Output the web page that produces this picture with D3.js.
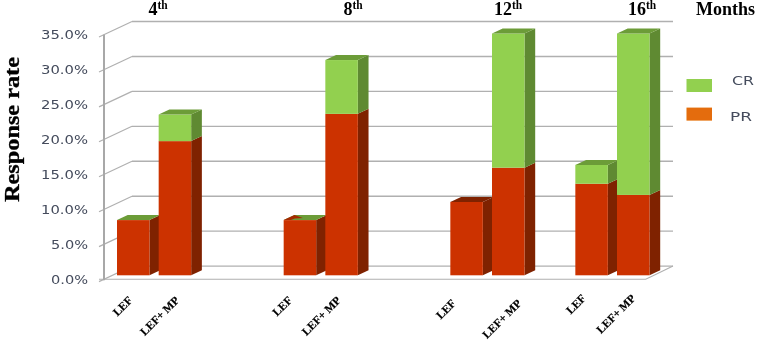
<!DOCTYPE html>
<html>
<head>
<meta charset="utf-8">
<script src="https://cdnjs.cloudflare.com/ajax/libs/d3/7.8.5/d3.min.js"></script>
<style>
  body { margin: 0; background: #fff; }
  svg { display: block; }
  .serif { font-family: "Liberation Serif", serif; font-weight: bold; fill: #000; }
  .sans { font-family: "DejaVu Sans", sans-serif; fill: #444b5c; }
</style>
</head>
<body>
<script>
// values, in percent
var months = ["4", "8", "12", "16"];
var arms = ["LEF", "LEF+ MP"];
var prValues = [7.9, 19.2, 7.9, 23.1, 10.5, 15.4, 13.1, 11.5];
var crValues = [0, 3.8, 0, 7.7, null, 19.2, 2.7, 23.1];
var yTicks = [0, 5, 10, 15, 20, 25, 30, 35];
var legendNames = ["CR", "PR"];

var width = 758, height = 340;

// layout of the fake 3D box
var wallDx = 28, wallDy = -13.2;   // front wall to back wall
var depthDx = 10.7, depthDy = -5;  // bar depth
var barLift = -4;                  // bars stand a bit behind the front edge
var floorRight = 645.7;

var colors = {
  pr: { front: "#cc3300", side: "#7f2200", top: "#7f2200" },
  cr: { front: "#92d050", side: "#5f8a32", top: "#6c9c38" },
  grid: "#b0b0b0", axis: "#a8a8a8", legendPr: "#e46c0a"
};

// empty slots between the month groups
var gapsAfter = [2, 2, 1];
var slots = [];
months.forEach(function(m, i) {
  arms.forEach(function(a) { slots.push(m + "|" + a); });
  for (var g = 0; g < (gapsAfter[i] || 0); g++) slots.push("gap" + i + g);
});

var x = d3.scaleBand().domain(slots).range([117, 649.5]).paddingInner(0.22).paddingOuter(0);
var y = d3.scaleLinear().domain([0, 35]).range([279.3, 34.7]);

var barKeys = [];
months.forEach(function(m) { arms.forEach(function(a) { barKeys.push(m + "|" + a); }); });

var bars = barKeys.map(function(k, i) {
  return { key: k, pr: prValues[i], cr: crValues[i] };
});

var svg = d3.select("body").append("svg")
    .attr("width", width)
    .attr("height", height);

svg.append("rect").attr("width", width).attr("height", height).attr("fill", "#fff");

svg.append("defs").append("filter")
    .attr("id", "soft")
  .append("feGaussianBlur")
    .attr("stdDeviation", 0.35);

var root = svg.append("g").attr("filter", "url(#soft)");

// back wall grid lines and the slanted lines on the left wall
root.append("g").selectAll("line")
  .data(yTicks)
  .enter().append("line")
    .attr("x1", 104 + wallDx).attr("x2", 673)
    .attr("y1", function(d) { return y(d) + wallDy; })
    .attr("y2", function(d) { return y(d) + wallDy; })
    .attr("stroke", colors.grid).attr("stroke-width", 1.4);

root.append("g").selectAll("line")
  .data(yTicks)
  .enter().append("line")
    .attr("x1", 99).attr("x2", 104 + wallDx)
    .attr("y1", function(d) { return y(d) + 2.3; })
    .attr("y2", function(d) { return y(d) + wallDy; })
    .attr("stroke", colors.grid).attr("stroke-width", 1.2);

// floor
root.append("path")
    .attr("d", "M99," + y(0) + "H" + floorRight + "L673," + (y(0) + wallDy))
    .attr("fill", "none")
    .attr("stroke", colors.grid).attr("stroke-width", 1.1);

root.append("line")
    .attr("x1", 104).attr("x2", 104)
    .attr("y1", y(35)).attr("y2", y(0) + 1)
    .attr("stroke", colors.axis).attr("stroke-width", 2);

// y axis labels
var yAxis = d3.axisLeft(y)
    .tickValues(yTicks)
    .tickSize(0)
    .tickPadding(16)
    .tickFormat(function(d) { return d.toFixed(1) + "%"; });

var yG = root.append("g").attr("transform", "translate(104,0)").call(yAxis);
yG.select(".domain").remove();
yG.selectAll("text")
    .attr("class", "sans")
    .attr("font-size", 11.5)
    .attr("textLength", function(d) { return d < 10 ? 37 : 47; })
    .attr("lengthAdjust", "spacingAndGlyphs")
    .attr("dy", "0.36em");

// one box segment: front, side and optionally top
function drawSegment(g, d, from, to, c, withTop) {
  var x0 = x(d.key), w = x.bandwidth();
  var yTop = y(to) + barLift, yBot = y(from) + barLift;
  g.append("path")
      .attr("d", "M" + (x0 + w) + "," + yTop + "l" + depthDx + "," + depthDy +
        "V" + (yBot + depthDy) + "L" + (x0 + w) + "," + yBot + "Z")
      .attr("fill", c.side);
  g.append("rect")
      .attr("x", x0).attr("y", yTop)
      .attr("width", w).attr("height", yBot - yTop)
      .attr("fill", c.front);
  if (withTop) {
    g.append("path")
        .attr("d", "M" + x0 + "," + yTop + "h" + w + "l" + depthDx + "," + depthDy +
          "h" + (-w) + "Z")
        .attr("fill", c.top);
  }
}

var barG = root.append("g");
bars.forEach(function(d) {
  var g = barG.append("g");
  var hasCr = d.cr !== null;
  drawSegment(g, d, 0, d.pr, colors.pr, !hasCr);
  if (hasCr) drawSegment(g, d, d.pr, d.pr + d.cr, colors.cr, true);
});

// the 8th month LEF bar shows a bit of red through its top face
var notch = bars[2];
barG.append("path")
    .attr("d", "M" + x(notch.key) + "," + (y(notch.pr) + barLift) +
      "l" + depthDx + "," + depthDy + "l8.5,3l-8,0.4l-4,1.6Z")
    .attr("fill", "#a52a00");

// x axis labels, the original sits them unevenly under the bars
var labelNudge = [0, 5, -7, 0, -10, 14, -5, 3];
var labelDrop = [0, 0, 0, 0, 3, 3, -2, -2];
var xAxis = d3.axisBottom(x)
    .tickValues(barKeys)
    .tickSize(0)
    .tickFormat(function(k) { return k.split("|")[1]; });

var xG = root.append("g").call(xAxis);
xG.select(".domain").remove();
xG.selectAll(".tick").attr("transform", null);
xG.selectAll("text")
    .attr("class", "serif")
    .attr("font-size", 11.5)
    .attr("stroke", "#000").attr("stroke-width", 0.2)
    .attr("text-anchor", "end")
    .attr("y", null).attr("dy", null)
    .attr("transform", function(k, i) {
      var px = x(k) + x.bandwidth() / 2 + labelNudge[i];
      return "translate(" + px + "," + (301 + labelDrop[i]) + ") rotate(-45)";
    });

// month labels on top
var monthCx = [158, 353, 508, 642];
var monthG = root.append("g").selectAll("text")
  .data(months)
  .enter().append("text")
    .attr("class", "serif")
    .attr("font-size", 18)
    .attr("text-anchor", "middle")
    .attr("x", function(d, i) { return monthCx[i]; })
    .attr("y", 15);
monthG.append("tspan").text(function(d) { return d; });
monthG.append("tspan")
    .attr("font-size", 11.5)
    .attr("dy", -6)
    .text("th");

root.append("text")
    .attr("class", "serif")
    .attr("font-size", 18)
    .attr("x", 696).attr("y", 15)
    .text("Months");

root.append("text")
    .attr("class", "serif")
    .attr("font-size", 20.5)
    .attr("stroke", "#000").attr("stroke-width", 0.3)
    .attr("text-anchor", "middle")
    .attr("textLength", 145)
    .attr("lengthAdjust", "spacingAndGlyphs")
    .attr("transform", "translate(18.6,129.5) rotate(-90)")
    .text("Response rate");

// legend
var legendColors = [colors.cr.front, colors.legendPr];
var legendBoxY = [79, 107.6];
var legendTextX = [732, 730];
var legendTextY = [81, 117];
var legendG = root.append("g").selectAll("g")
  .data(legendNames)
  .enter().append("g");
legendG.append("rect")
    .attr("x", 686.5).attr("width", 25.5).attr("height", 13)
    .attr("y", function(d, i) { return legendBoxY[i]; })
    .attr("fill", function(d, i) { return legendColors[i]; });
legendG.append("text")
    .attr("class", "sans")
    .attr("font-size", 11.5)
    .attr("textLength", 22)
    .attr("lengthAdjust", "spacingAndGlyphs")
    .attr("x", function(d, i) { return legendTextX[i]; })
    .attr("y", function(d, i) { return legendTextY[i]; })
    .attr("dy", "0.36em")
    .text(function(d) { return d; });
</script>
</body>
</html>
